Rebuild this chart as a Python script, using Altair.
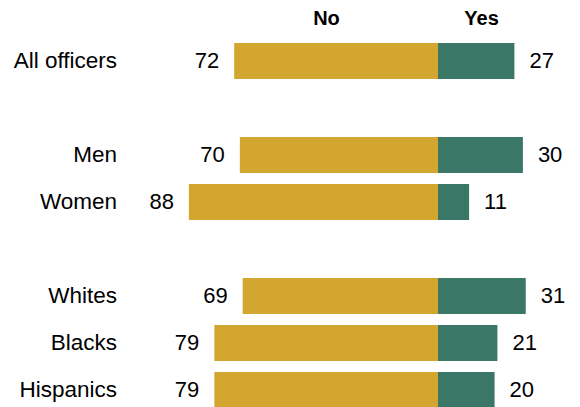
import altair as alt
import pandas as pd

categories = ["All officers", "Men", "Women", "Whites", "Blacks", "Hispanics"]
no_values = [72, 70, 88, 69, 79, 79]
yes_values = [27, 30, 11, 31, 21, 20]
row_order = ["All officers", "gap1", "Men", "Women", "gap2", "Whites", "Blacks", "Hispanics"]
headers = ["No", "Yes"]

rows = []
for c, n, y in zip(categories, no_values, yes_values):
    rows.append({"category": c, "answer": "No", "value": n})
    rows.append({"category": c, "answer": "Yes", "value": y})
df = pd.DataFrame(rows)
cat_df = pd.DataFrame({"category": categories})

FONT = "Liberation Sans"
GOLD = "#D3A72F"
GREEN = "#3A7767"

xscale = alt.Scale(domain=[-151.9, 47.35], nice=False, zero=False)
yscale = alt.Scale(domain=row_order, range=[29.5, 405.5], paddingInner=0.234, paddingOuter=0.117)

base = alt.Chart(df).transform_calculate(
    start="datum.answer == 'No' ? -datum.value : 0",
    end="datum.answer == 'No' ? 0 : datum.value",
)

bars = base.mark_bar().encode(
    x=alt.X("start:Q", scale=xscale, axis=None),
    x2="end:Q",
    y=alt.Y("category:N", scale=yscale, axis=None),
    color=alt.Color("answer:N", scale=alt.Scale(domain=["No", "Yes"], range=[GOLD, GREEN]), legend=None),
)

no_text = base.transform_filter("datum.answer == 'No'").mark_text(
    align="right", baseline="middle", dx=-15, font=FONT, fontSize=22, color="#000000"
).encode(
    x=alt.X("start:Q", scale=xscale, axis=None),
    y=alt.Y("category:N", scale=yscale, axis=None),
    text="value:Q",
)

yes_text = base.transform_filter("datum.answer == 'Yes'").mark_text(
    align="left", baseline="middle", dx=15, font=FONT, fontSize=22, color="#000000"
).encode(
    x=alt.X("end:Q", scale=xscale, axis=None),
    y=alt.Y("category:N", scale=yscale, axis=None),
    text="value:Q",
)

cat_text = alt.Chart(cat_df).mark_text(
    align="right", baseline="middle", font=FONT, fontSize=22.5, color="#000000"
).encode(
    x=alt.value(109),
    y=alt.Y("category:N", scale=yscale, axis=None),
    text="category:N",
)

hdr_df = pd.DataFrame({"label": headers, "px": [318.5, 473.5]})
hdr_text = alt.Chart(hdr_df).mark_text(
    align="center", baseline="middle", font=FONT, fontSize=20, fontWeight="bold", color="#000000"
).encode(
    x=alt.X("px:Q", scale=None, axis=None),
    y=alt.value(11),
    text="label:N",
)

chart = alt.layer(bars, no_text, yes_text, cat_text, hdr_text).properties(
    width=564, height=399, autosize=alt.AutoSizeParams(type="none"), padding=0
).configure_view(stroke=None)

chart.save("out.html", embed_options={"renderer": "svg", "actions": False})
